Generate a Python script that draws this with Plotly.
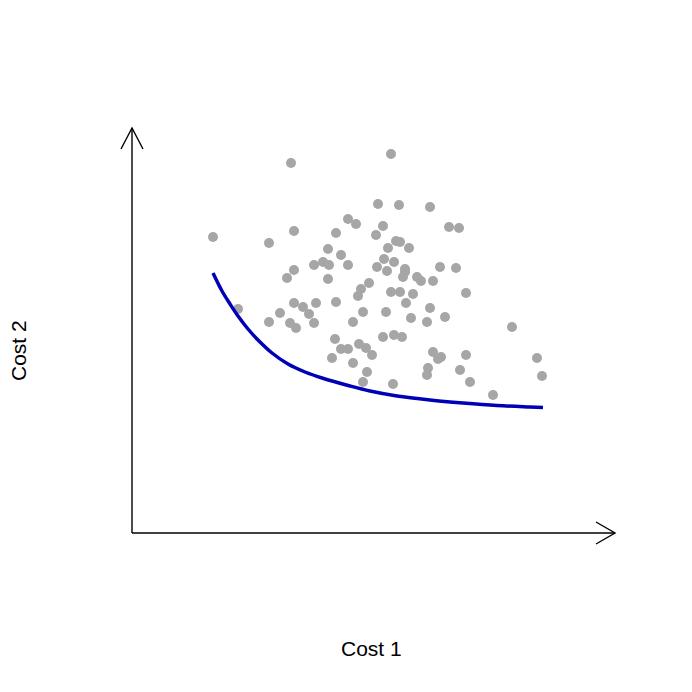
import plotly.graph_objects as go

# Scatter of candidate solutions (arbitrary cost units)
cost1 = [159, 259, 81, 137, 162, 204, 216, 224, 246, 267, 298, 244, 251, 196, 209,
         182, 191, 197, 216, 162, 155, 264, 268, 256, 277, 317, 327, 252, 262, 245,
         273, 308, 324, 196, 237, 229, 226, 106, 162, 171, 184, 204, 148, 137, 158,
         164, 177, 182, 231, 221, 203, 209, 216, 200, 227, 234, 240, 221, 235, 231,
         255, 273, 271, 285, 289, 301, 259, 268, 281, 334, 274, 254, 298, 279, 295,
         313, 380, 251, 262, 270, 301, 309, 306, 334, 405, 296, 295, 328, 410, 261,
         338, 361]
cost2 = [370, 379, 296, 290, 302, 300, 314, 309, 329, 328, 326, 298, 307, 284, 278,
         268, 271, 268, 268, 263, 255, 292, 291, 285, 285, 306, 305, 274, 271, 266,
         264, 266, 265, 254, 250, 244, 237, 224, 230, 226, 230, 231, 220, 211, 210,
         205, 219, 210, 221, 211, 194, 184, 184, 175, 189, 185, 178, 170, 161, 151,
         262, 261, 256, 256, 252, 252, 241, 241, 239, 240, 230, 221, 225, 215, 211,
         216, 206, 196, 198, 196, 181, 176, 174, 178, 175, 165, 158, 163, 157, 149,
         151, 138]

# Pareto front curve
front_c1 = [81, 90, 98, 106, 116, 126, 140, 156, 173, 190, 218, 238, 265, 298, 331, 365, 398, 411]
front_c2 = [260, 242, 229, 217, 204, 193, 180, 169, 161, 155, 147, 142, 137, 133, 130, 127.5, 126, 125.5]

fig = go.Figure()
fig.add_trace(go.Scatter(x=cost1, y=cost2, mode="markers",
                         marker=dict(size=10, color="#a6a6a6", line=dict(width=0)),
                         showlegend=False, hoverinfo="skip"))
fig.add_trace(go.Scatter(x=front_c1, y=front_c2, mode="lines",
                         line=dict(color="#0000b4", width=3.5, shape="spline", smoothing=1.0),
                         showlegend=False, hoverinfo="skip"))

OFF = 8  # default page body margin
W, H = 692, 692
L, R, T, B = 132, 77, 128, 159   # page-pixel positions of the plot area
pw, ph = W - L - R, H - T - B

def px(x):
    return (x - L) / pw

def py(y):
    return (H - B - y) / ph

ax_line = dict(color="black", width=1.4)
shapes = [
    dict(type="line", xref="paper", yref="paper", x0=0, y0=0, x1=0, y1=1, line=ax_line),
    dict(type="line", xref="paper", yref="paper", x0=0, y0=0, x1=1, y1=0, line=ax_line),
    dict(type="path", xref="paper", yref="paper",
         path=f"M {px(121)},{py(149)} L 0,1 L {px(143)},{py(149)}", line=ax_line),
    dict(type="path", xref="paper", yref="paper",
         path=f"M {px(596)},{py(522)} L 1,0 L {px(596)},{py(544)}", line=ax_line),
]

font = dict(family="Liberation Sans, Arial, sans-serif", size=21, color="black")
annotations = [
    dict(text="Cost 1", xref="paper", yref="paper", x=px(371), y=py(648),
         xanchor="center", yanchor="middle", showarrow=False, font=font),
    dict(text="Cost 2", xref="paper", yref="paper", x=px(18), y=py(351),
         xanchor="center", yanchor="middle", showarrow=False, font=font, textangle=-90),
]

fig.update_layout(
    width=W, height=H, autosize=False,
    margin=dict(l=L - OFF, r=R + OFF, t=T - OFF, b=B + OFF),
    paper_bgcolor="white", plot_bgcolor="white",
    xaxis=dict(range=[0, pw], visible=False, fixedrange=True),
    yaxis=dict(range=[0, ph], visible=False, fixedrange=True),
    shapes=shapes, annotations=annotations,
)

fig.write_html("out.html")
